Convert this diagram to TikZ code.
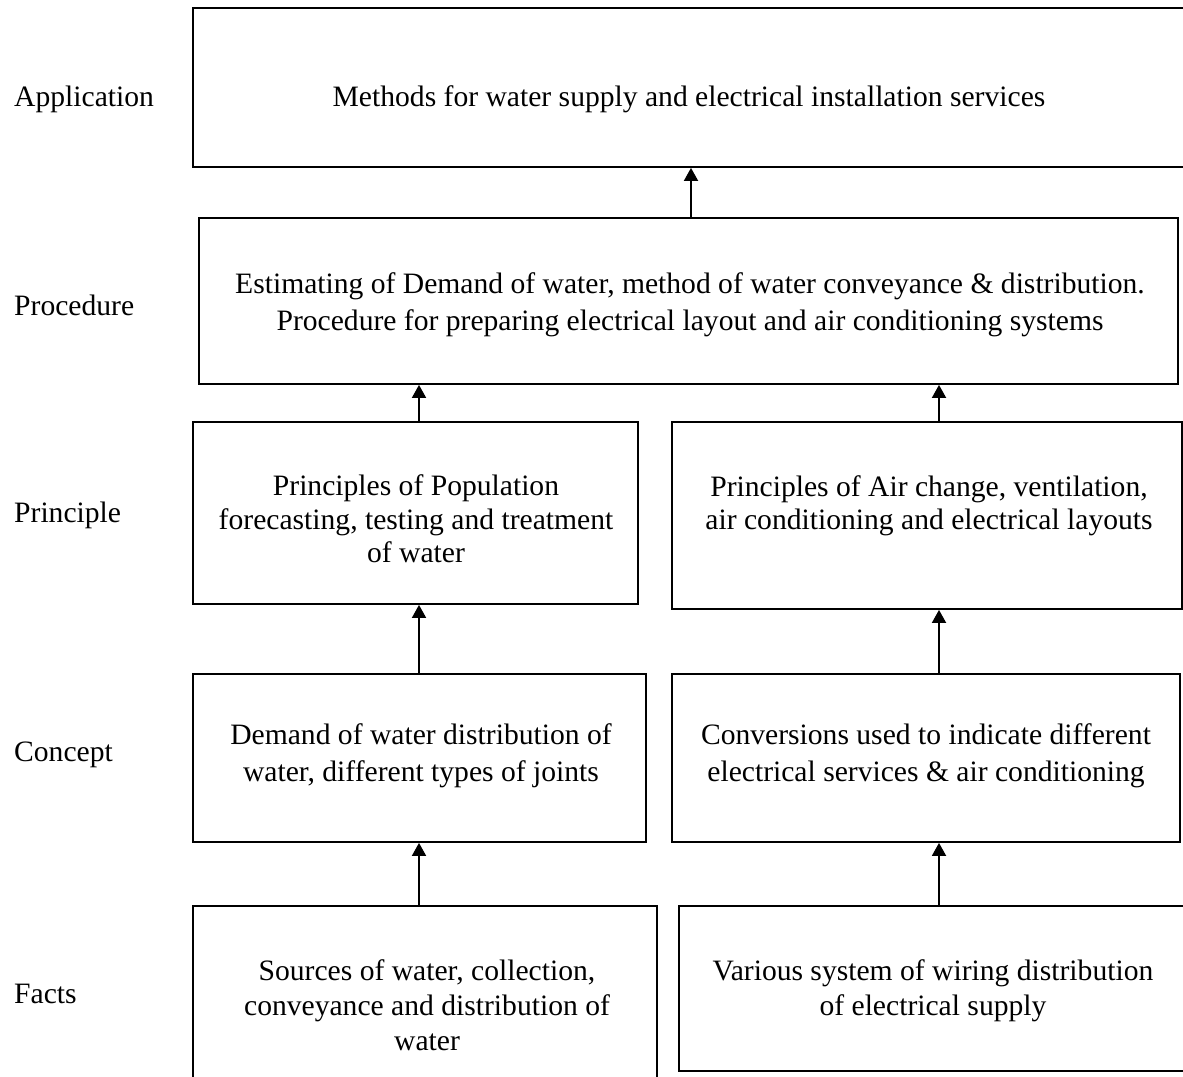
\documentclass[tikz,border=0pt]{standalone}
\usepackage{fontspec}
\setmainfont{Liberation Serif}
\usetikzlibrary{arrows.meta}
\begin{document}
\begin{tikzpicture}[x=1pt,y=-1pt,
  every node/.style={font=\fontsize{29.6}{35}\selectfont},
  box/.style={draw, line width=1.8pt, inner sep=0pt, minimum width=#1},
  txt/.style={align=center, inner sep=0pt},
  skip/.style={font=\fontsize{29.6}{#1}\selectfont},
  lvl/.style={anchor=west, inner sep=0pt},
  arr/.style={line width=1.8pt, -{Triangle[length=13pt,width=14pt]}}]
\useasboundingbox (0,0) rectangle (1183,1076);

% level labels
\node[lvl] (lApp)  at (14,99)  {Application};
\node[lvl] (lProc) at (14,305) {Procedure};
\node[lvl] (lPrin) at (14,515) {Principle};
\node[lvl] (lConc) at (14,755) {Concept};
\node[lvl] (lFact) at (14,994) {Facts};

% boxes
\node[box=993pt, minimum height=159pt] (app)   at (689.5,87.5) {};
\node[box=979pt, minimum height=166pt] (proc)  at (688.5,301)  {};
\node[box=445pt, minimum height=182pt] (prinL) at (415.5,513)  {};
\node[box=510pt, minimum height=187pt] (prinR) at (927,515.5)  {};
\node[box=453pt, minimum height=168pt] (concL) at (419.5,758)  {};
\node[box=508pt, minimum height=168pt] (concR) at (926,758)    {};
\node[box=464pt, minimum height=176pt] (factL) at (425,994)    {};
\node[box=507pt, minimum height=165pt] (factR) at (932.5,988.5) {};

% box texts
\node[txt] (appT)   at (689,99)    {Methods for water supply and electrical installation services};
\node[txt, skip=37]   (procT)  at (690,304.5) {Estimating of Demand of water, method of water conveyance \& distribution.\\Procedure for preparing electrical layout and air conditioning systems};
\node[txt, skip=33.5] (prinLT) at (416,519)   {Principles of Population\\forecasting, testing and treatment\\of water};
\node[txt, skip=33.5] (prinRT) at (929,506)   {Principles of Air change, ventilation,\\air conditioning and electrical layouts};
\node[txt, skip=37]   (concLT) at (421,756)   {Demand of water distribution of\\water, different types of joints};
\node[txt, skip=37]   (concRT) at (926,756)   {Conversions used to indicate different\\electrical services \& air conditioning};
\node[txt] (factLT) at (427,1005)  {Sources of water, collection,\\conveyance and distribution of\\water};
\node[txt] (factRT) at (933,990.5) {Various system of wiring distribution\\of electrical supply};

% connector columns
\coordinate (aM) at (691,0);
\coordinate (aL) at (419,0);
\coordinate (aR) at (939,0);

% connectors
\draw[arr] (proc.north -| aM)  -- (app.south -| aM);
\draw[arr] (prinL.north -| aL) -- (proc.south -| aL);
\draw[arr] (prinR.north -| aR) -- (proc.south -| aR);
\draw[arr] (concL.north -| aL) -- (prinL.south -| aL);
\draw[arr] (concR.north -| aR) -- (prinR.south -| aR);
\draw[arr] (factL.north -| aL) -- (concL.south -| aL);
\draw[arr] (factR.north -| aR) -- (concR.south -| aR);
\end{tikzpicture}
\end{document}
